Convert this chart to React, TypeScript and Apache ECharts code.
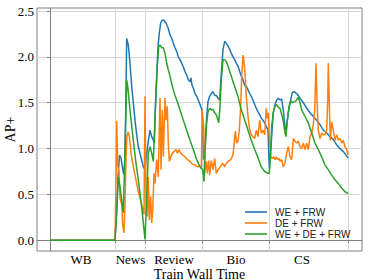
import React, { useEffect, useRef } from "react";
import * as echarts from "echarts";

const sectionBounds = [0, 65.3, 95.7, 152.7, 219.3, 298];
const sectionNames = ["WB", "News", "Review", "Bio", "CS"];
const sectionLabelPos = [31, 80.5, 124, 186, 252];
const yTicks = [0, 0.5, 1, 1.5, 2, 2.5];
const seriesNames = ["WE + FRW", "DE + FRW", "WE + DE + FRW"];
const seriesColors = ["#1f77b4", "#ff7f0e", "#2ca02c"];

const weFrw = [
  [0, 0], [65, 0], [66.5, 0.3], [68, 0.69], [69.5, 0.93], [71, 0.9], [72.3, 0.8], [73.7, 0.72], [75, 0.88],
  [76.7, 2.2], [78.3, 2.13], [80, 1.93], [81.7, 1.68], [83.3, 1.5], [85, 1.31], [86.7, 1.15], [88.3, 1.02],
  [90, 0.95], [91.7, 0.87], [93.3, 0.8], [95, 0.77], [96.7, 0.95], [98.3, 1.08], [100, 1.2], [101.7, 1.13],
  [103.3, 1.09], [104.3, 1.06], [105.3, 1.42], [106.7, 1.79], [108, 2.11], [109.3, 2.26], [110.7, 2.37],
  [112, 2.4], [114, 2.4], [116, 2.37], [118.3, 2.31], [120, 2.24], [121.7, 2.2], [123.3, 2.15], [125, 2.1],
  [126.7, 2.06], [128.3, 2.0], [130, 1.97], [131.7, 1.93], [133.3, 1.89], [135, 1.84], [136.7, 1.8],
  [138.3, 1.75], [140, 1.73], [141, 1.77], [142, 1.69], [143.3, 1.66], [145, 1.6], [146.7, 1.57],
  [148.3, 1.53], [150, 1.48], [152, 1.42], [153.5, 0.88], [155.3, 1.09], [156.7, 1.35], [158, 1.51],
  [159.7, 1.57], [161.3, 1.6], [163, 1.62], [164.7, 1.58], [166.3, 1.58], [168, 1.55], [169.7, 1.53],
  [171.3, 1.82], [173, 2.08], [174.7, 2.17], [176.3, 2.15], [178, 2.12], [179.7, 2.08], [181.3, 2.04],
  [183, 2.0], [184.7, 1.97], [186.3, 1.93], [188, 1.9], [189.7, 1.84], [191.3, 1.79], [193, 1.75],
  [194.7, 1.69], [196.3, 1.68], [198, 1.64], [199.7, 1.6], [201.3, 1.57], [203, 1.53], [204.7, 1.48],
  [206.3, 1.44], [208, 1.4], [209.7, 1.37], [211.3, 1.33], [213, 1.31], [214.7, 1.28], [216.3, 1.24],
  [218, 1.2], [219.3, 0.78], [221, 1.02], [222.3, 1.24], [223.3, 1.39], [225, 1.48], [226.7, 1.53],
  [228.3, 1.55], [230, 1.53], [231.7, 1.54], [233.3, 1.42], [235, 1.24], [236, 1.2], [237.3, 1.31],
  [239, 1.44], [240.7, 1.53], [242.3, 1.61], [244, 1.62], [246.7, 1.6], [248.3, 1.58], [250, 1.55],
  [253.3, 1.5], [256.7, 1.44], [260, 1.39], [263.3, 1.35], [266.7, 1.31], [270, 1.26], [273.3, 1.2],
  [276.7, 1.17], [280, 1.13], [283.3, 1.1], [286.7, 1.04], [290, 1.0], [293.3, 0.97], [298, 0.9],
];

const deFrw = [
  [0, 0], [65, 0], [65.8, 0.5], [66.7, 1.3], [67.7, 0.82], [69, 0.75], [70, 0.46], [71.7, 0.39],
  [72.7, 0.17], [74, 0.08], [75, 0.39], [76, 0.9], [77, 1.15], [78.3, 1.18], [79.3, 1.13], [81.7, 0.9],
  [85, 0.71], [88.3, 0.53], [91.7, 0.39], [94, 0.28], [95, 1.57], [96, 0.48], [97.3, 0.26], [98.3, 0.69],
  [99.3, 0.22], [100.7, 0.48], [101.7, 0.19], [102.7, 0.33], [104, 0.73], [105, 0.62], [106.7, 0.88],
  [108.3, 0.69], [110, 1.55], [111, 0.77], [112.3, 1.42], [113.3, 0.91], [115, 1.55], [116, 1.31],
  [117.3, 1.46], [118.3, 1.06], [119.3, 0.86], [120.7, 0.91], [122.3, 0.95], [124.3, 0.97], [126, 0.99],
  [127.3, 0.95], [129, 0.99], [130.7, 0.95], [132.7, 0.93], [135, 0.91], [137.3, 0.88], [140, 0.86],
  [142.3, 0.83], [145, 0.82], [147.3, 0.8], [150, 0.81], [151.3, 0.78], [152.3, 1.42], [153.7, 1.24],
  [154.7, 0.73], [156.3, 0.86], [157.3, 0.73], [158.7, 0.87], [159.7, 0.71], [161.3, 0.87], [163, 0.77],
  [164.7, 0.89], [166.3, 0.73], [168, 0.77], [169.7, 0.79], [171.3, 0.82], [173, 0.84], [174.7, 0.8],
  [176.3, 0.84], [178, 0.86], [179.7, 0.87], [181.3, 0.89], [183, 0.93], [184, 1.04], [185.3, 1.19],
  [186.7, 1.06], [188, 1.08], [189.3, 1.2], [190.7, 1.46], [191.7, 1.79], [193, 2.02], [194, 1.95],
  [195, 1.82], [196.3, 1.57], [198, 1.35], [199.7, 1.2], [201.3, 1.15], [203, 1.13], [204.7, 1.11],
  [206.3, 1.2], [208, 1.13], [209.7, 1.31], [211.3, 1.17], [213, 1.2], [214.7, 1.15], [216.3, 1.44],
  [217.3, 1.33], [218.3, 1.39], [219.7, 1.02], [221, 0.91], [222.3, 0.89], [223.7, 0.91], [225, 0.88],
  [226.3, 0.91], [227.7, 0.88], [229, 0.89], [230.3, 0.86], [231.7, 0.88], [233.3, 0.8], [235, 0.84],
  [236.7, 0.95], [238.3, 1.02], [240, 0.91], [241.7, 0.88], [243.3, 1.11], [245, 1.08], [246.7, 1.06],
  [248.3, 1.08], [250, 1.02], [251.7, 1.0], [253.3, 1.06], [255, 0.99], [256.7, 1.06], [258.3, 0.99],
  [260, 1.13], [261.7, 1.17], [263.3, 1.26], [264.7, 1.42], [266, 1.93], [267, 1.53], [268.3, 1.2],
  [270, 1.11], [271.7, 1.17], [273.3, 1.15], [275, 1.15], [276.7, 1.2], [277.7, 1.53], [278.3, 1.93],
  [279.3, 1.5], [280.3, 1.09], [281.7, 1.29], [283.3, 1.2], [285, 1.09], [286.7, 1.15], [288.3, 1.09],
  [290, 1.11], [291.7, 1.06], [293.3, 1.09], [295, 1.02], [296.7, 0.99], [298, 0.93],
];

const weDeFrw = [
  [0, 0], [65, 0], [66.7, 0.29], [68.3, 0.69], [70, 0.58], [71.7, 0.44], [73.3, 0.3], [74.3, 0.69],
  [75.7, 1.31], [76.7, 1.75], [77.7, 1.68], [80, 1.42], [83.3, 1.09], [86, 0.84], [88.3, 0.66],
  [91.7, 0.36], [95, 0.01], [96.7, 0.48], [98.3, 0.95], [100, 1.02], [101.7, 0.95], [103.3, 0.86],
  [104.7, 1.24], [106, 1.6], [107.3, 1.9], [108.7, 2.11], [110, 2.13], [111.7, 2.1], [113.3, 2.1],
  [115, 2.04], [116.7, 1.93], [118.3, 1.86], [120, 1.79], [121.7, 1.71], [123.3, 1.64], [125, 1.58],
  [126.7, 1.53], [128.3, 1.48], [130, 1.42], [133.3, 1.31], [136.7, 1.2], [140, 1.09], [143.3, 0.99],
  [146.7, 0.88], [150, 0.8], [152.7, 0.77], [154, 0.64], [155.3, 1.02], [156.7, 1.28], [158, 1.4],
  [159.7, 1.44], [161.3, 1.42], [163, 1.43], [164.7, 1.39], [166.3, 1.37], [168.7, 1.28], [170, 1.46],
  [171.3, 1.75], [173, 1.97], [174.7, 1.97], [176.3, 1.95], [178, 1.9], [179.7, 1.84], [181.3, 1.79],
  [183, 1.73], [184.7, 1.68], [186.3, 1.62], [188, 1.57], [189.7, 1.49], [191.3, 1.42], [193, 1.37],
  [194.7, 1.31], [196.3, 1.26], [198, 1.2], [201.3, 1.09], [204.7, 0.99], [208, 0.9], [211.3, 0.8],
  [214.7, 0.75], [218, 0.73], [219.3, 0.73], [220.7, 0.99], [221.7, 1.24], [223.3, 1.4], [225, 1.46],
  [226.7, 1.48], [228.3, 1.45], [230, 1.44], [231.7, 1.37], [233.3, 1.3], [235, 1.17], [236, 1.13],
  [237.3, 1.3], [239, 1.46], [240.7, 1.52], [242.3, 1.5], [244.3, 1.51], [246, 1.52], [248.3, 1.56],
  [250, 1.5], [251.7, 1.42], [255, 1.35], [258.3, 1.28], [261.7, 1.17], [265, 1.06], [268.3, 0.99],
  [271.7, 0.91], [275, 0.82], [278.3, 0.77], [281.7, 0.71], [285, 0.66], [288.3, 0.62], [291.7, 0.57],
  [295, 0.53], [298, 0.51],
];

const allSeries = [weFrw, deFrw, weDeFrw];

export default function App() {
  const ref = useRef<HTMLDivElement>(null);
  useEffect(() => {
    const chart = echarts.init(ref.current!, null, { renderer: "svg" });
    const serif = "'Liberation Serif', 'Times New Roman', serif";
    chart.setOption({
      animation: false,
      backgroundColor: "#ffffff",
      grid: {
        left: 37,
        top: 8,
        width: 325,
        height: 243,
        show: true,
        borderColor: "#808080",
        borderWidth: 1,
        containLabel: false,
        outerBoundsMode: "none",
      },
      legend: {
        orient: "vertical",
        left: 245,
        top: 206,
        padding: 0,
        icon: "rect",
        itemWidth: 22,
        itemHeight: 1.6,
        itemGap: -1,
        textStyle: {
          fontFamily: "'Liberation Sans', Arial, sans-serif",
          fontSize: 10,
          color: "#222",
          lineHeight: 12,
          padding: [0, 0, 0, 3],
        },
        data: seriesNames,
      },
      xAxis: {
        type: "value",
        min: -13,
        max: 312,
        name: "Train Wall Time",
        nameLocation: "middle",
        nameGap: 16,
        nameMoveOverlap: false,
        nameTextStyle: { fontFamily: serif, fontSize: 14, lineHeight: 14, color: "#000" },
        axisLine: { show: true, lineStyle: { color: "#808080" } },
        axisTick: {
          show: true,
          length: 3,
          customValues: sectionBounds,
          lineStyle: { color: "#808080" },
        },
        axisLabel: {
          customValues: sectionLabelPos,
          margin: 2,
          fontFamily: serif,
          fontSize: 13,
          lineHeight: 12,
          color: "#000",
          formatter: (v: number) => {
            const i = sectionLabelPos.findIndex((p) => Math.abs(p - v) < 0.01);
            return i >= 0 ? sectionNames[i] : "";
          },
        },
        splitLine: { show: true, lineStyle: { color: "#d6d6d6", width: 1 } },
      },
      yAxis: {
        type: "value",
        min: -0.117,
        max: 2.533,
        name: "AP+",
        nameLocation: "middle",
        nameGap: 20,
        nameMoveOverlap: false,
        nameTextStyle: { fontFamily: serif, fontSize: 14, color: "#000" },
        axisLine: { show: true, lineStyle: { color: "#808080" } },
        axisTick: {
          show: true,
          length: 3,
          customValues: yTicks,
          lineStyle: { color: "#808080" },
        },
        axisLabel: {
          customValues: yTicks,
          margin: 3,
          fontFamily: serif,
          fontSize: 13,
          color: "#000",
          formatter: (v: number) => v.toFixed(1),
        },
        splitLine: { show: true, lineStyle: { color: "#d6d6d6", width: 1 } },
      },
      series: allSeries.map((d, i) => ({
        name: seriesNames[i],
        type: "line",
        data: d,
        symbol: "none",
        showSymbol: false,
        lineStyle: { color: seriesColors[i], width: 1.5 },
        itemStyle: { color: seriesColors[i] },
        emphasis: { disabled: true },
      })),
    });
    return () => chart.dispose();
  }, []);
  return (
    <div
      ref={ref}
      style={{ position: "fixed", left: 0, top: 0, width: 374, height: 280 }}
    />
  );
}
